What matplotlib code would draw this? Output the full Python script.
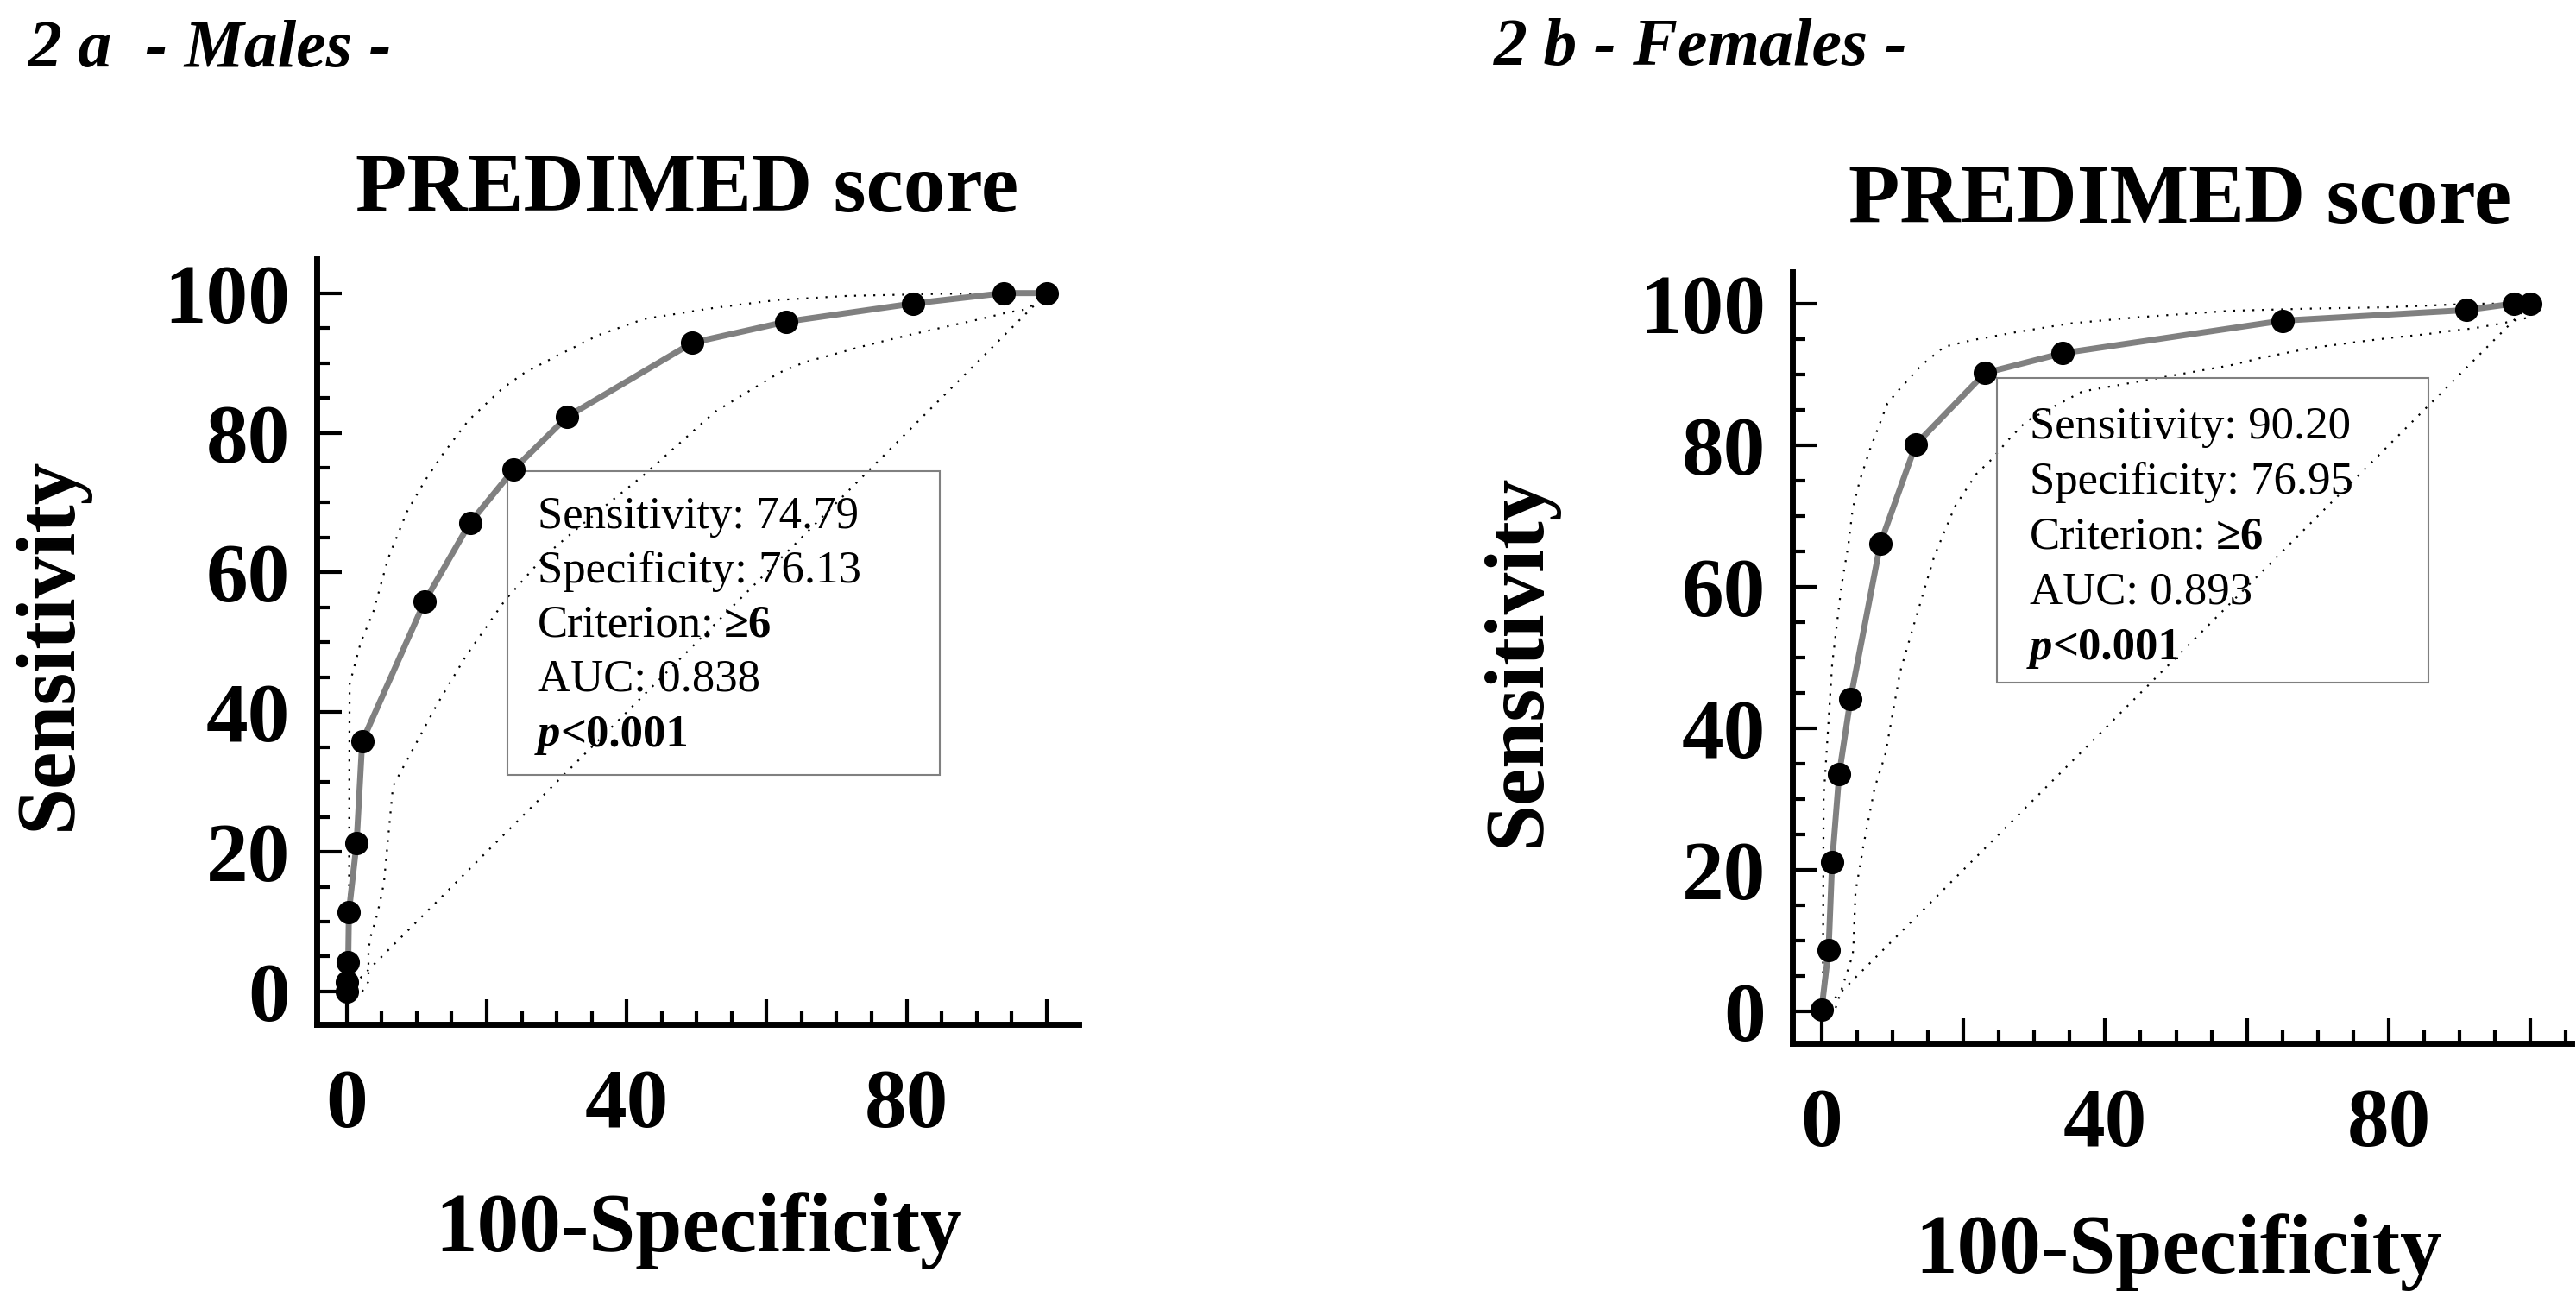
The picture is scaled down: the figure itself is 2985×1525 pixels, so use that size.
import matplotlib
matplotlib.use('Agg')
from matplotlib import pyplot as plt
from matplotlib.patches import Rectangle
from matplotlib.ticker import MultipleLocator

# 2a - males: ROC points (100-specificity, sensitivity)
male_fpr = [0, 0, 0.2, 0.3, 1.4, 2.2, 11.1, 17.6, 23.87, 31.5, 49.4, 62.8, 80.9, 93.9, 100]
male_sens = [0, 1.3, 4.2, 11.4, 21.3, 35.8, 55.8, 67.1, 74.79, 82.3, 92.9, 95.9, 98.5, 100, 100]
# 95% confidence bounds
male_up_x = [0, 0.3, 0.4, 2.0, 3.8, 5.9, 8.6, 11.2, 13.7, 17.4, 22.3, 25.4, 30.2, 36, 42.5, 52.6, 61.4, 71.5, 85, 100]
male_up_y = [0, 8, 44, 50, 54.4, 62, 68.7, 73.2, 76.9, 81.8, 86.4, 88.6, 91.1, 94, 96.3, 97.9, 99.0, 99.6, 99.9, 100]
male_lo_x = [2.2, 3.1, 3.1, 3.5, 4.1, 4.7, 5.3, 6.6, 12.9, 17, 22.6, 28.2, 33.3, 42.5, 52.6, 61.8, 65.4, 69.1, 73.4, 76.6, 80.8, 86.1, 90.6, 94.3, 97.2, 100]
male_lo_y = [0, 1.4, 6.1, 8.2, 10.1, 12.6, 15.5, 29.4, 41.1, 48, 56, 62.3, 66.6, 74, 83, 88.6, 90.1, 91.1, 92.3, 93.1, 94.1, 95.3, 96.3, 97.2, 97.7, 100]
male_stats = ['74.79', '76.13', '0.838']

# 2b - females
fem_fpr = [0, 1.0, 1.5, 2.5, 4.1, 8.3, 13.3, 23.05, 34.0, 65.0, 91.0, 97.6, 100]
fem_sens = [0.2, 8.7, 21.1, 33.6, 44.2, 66.1, 80.1, 90.20, 93.0, 97.6, 99.1, 100, 100]
fem_up_x = [0, 0.2, 0.3, 1.5, 2.8, 3.8, 4.4, 5.4, 6.8, 9.3, 10.8, 14.1, 17.3, 21, 27, 35, 44.8, 57.7, 68.7, 80, 92, 100]
fem_up_y = [0, 2, 30, 49, 60, 66, 71, 75, 79.3, 85.9, 87.7, 91.3, 93.9, 94.8, 95.9, 97.2, 98.1, 99.0, 99.3, 99.5, 100, 100]
fem_lo_x = [2.0, 4.4, 4.5, 4.8, 6.0, 7.5, 9.0, 11.1, 12.9, 15.9, 18.8, 21.8, 24.0, 26.3, 28.9, 36.8, 49.8, 57.7, 61.8, 66.3, 69.5, 75.6, 80.5, 85.4, 89.0, 91.8, 95.9, 99.5, 100]
fem_lo_y = [0.5, 8.0, 9.1, 16.9, 23.9, 31.6, 36.3, 48.0, 54.2, 64.3, 71.3, 75.9, 78.0, 80.7, 83.4, 87.6, 89.9, 91.3, 92.3, 93.2, 93.8, 94.6, 95.2, 95.7, 96.2, 96.5, 97.2, 98.0, 100]
fem_stats = ['90.20', '76.95', '0.893']

x_ticks = [0, 20, 40, 60, 80, 100]
x_ticklabels = ['0', '', '40', '', '80', '']
y_ticks = [0, 20, 40, 60, 80, 100]

W, H = 2985, 1525
plt.rcParams['font.family'] = ['Liberation Serif', 'DejaVu Serif']
plt.rcParams['font.weight'] = 'bold'


def fx(px):
    return px / W


def fy(py):
    return 1 - py / H


fig = plt.figure(figsize=(W / 100, H / 100), dpi=100)
dot = (0, (1, 4))


def panel(rect, xlim, ylim, fpr, sens, upx, upy, lox, loy, box, txt_xy, stats, xpad):
    ax = fig.add_axes(rect)
    ax.plot([0, 100], [0, 100], ls=dot, lw=1.6, color='black', zorder=1)
    ax.plot(upx, upy, ls=dot, lw=1.6, color='black', zorder=1)
    ax.plot(lox, loy, ls=dot, lw=1.6, color='black', zorder=1)
    ax.plot(fpr, sens, color='#808080', lw=5, marker='o', ms=18.5,
            mfc='black', mec='black', zorder=3, clip_on=False)
    ax.add_patch(Rectangle((box[0], box[1]), box[2] - box[0], box[3] - box[1],
                           fill=False, edgecolor='#808080', lw=1.5, zorder=2))

    tx, ty = txt_xy
    step = 7.8
    fs = 38
    ax.text(tx, ty, 'Sensitivity: ' + stats[0], fontsize=fs, fontweight='normal')
    ax.text(tx, ty - step, 'Specificity: ' + stats[1], fontsize=fs, fontweight='normal')
    t = ax.text(tx, ty - 2 * step, 'Criterion:', fontsize=fs, fontweight='normal')
    ax.annotate('\u22656', xy=(1, 0), xycoords=t, xytext=(8, 0), textcoords='offset points',
                va='bottom', ha='left', fontsize=fs, fontweight='bold')
    ax.text(tx, ty - 3 * step, 'AUC: ' + stats[2], fontsize=fs, fontweight='normal')
    t = ax.text(tx, ty - 4 * step, 'p', fontsize=fs, fontweight='bold', fontstyle='italic')
    ax.annotate('<0.001', xy=(1, 0), xycoords=t, va='bottom', ha='left',
                fontsize=fs, fontweight='bold')

    ax.set_xlim(*xlim)
    ax.set_ylim(*ylim)
    for s in ['top', 'right']:
        ax.spines[s].set_visible(False)
    for s in ['left', 'bottom']:
        ax.spines[s].set_linewidth(5)
    ax.set_xticks(x_ticks)
    ax.set_xticklabels(x_ticklabels)
    ax.set_yticks(y_ticks)
    ax.xaxis.set_minor_locator(MultipleLocator(5))
    ax.yaxis.set_minor_locator(MultipleLocator(5))
    ax.tick_params(which='major', direction='in', length=21, width=3, labelsize=70)
    ax.tick_params(which='minor', direction='in', length=11, width=3)
    ax.tick_params(axis='x', which='major', pad=xpad)
    ax.tick_params(axis='y', which='major', pad=22)
    return ax


panel([fx(367), fy(1187), fx(1250) - fx(367), fy(300) - fy(1187)],
      (-4.3, 104.6), (-4.7, 104.9),
      male_fpr, male_sens, male_up_x, male_up_y, male_lo_x, male_lo_y,
      (22.9, 31.0, 84.7, 74.5), (27.3, 66.4), male_stats, 37)

panel([fx(2077), fy(1209), fx(2980) - fx(2077), fy(315) - fy(1209)],
      (-4.1, 105.8), (-4.5, 104.5),
      fem_fpr, fem_sens, fem_up_x, fem_up_y, fem_lo_x, fem_lo_y,
      (24.7, 46.5, 85.6, 89.5), (29.4, 81.0), fem_stats, 37)

# panel headings
fig.text(fx(33), fy(77), '2 a  - Males -', fontsize=56, fontstyle='italic', va='baseline')
fig.text(fx(1731), fy(75), '2 b - Females -', fontsize=56, fontstyle='italic', va='baseline')

# titles
fig.text(fx(796), fy(245), 'PREDIMED score', fontsize=70, ha='center', va='baseline')
fig.text(fx(2526), fy(258), 'PREDIMED score', fontsize=70, ha='center', va='baseline')

# axis labels
fig.text(fx(810), fy(1450), '100-Specificity', fontsize=70, ha='center', va='baseline')
fig.text(fx(2525), fy(1475), '100-Specificity', fontsize=70, ha='center', va='baseline')
fig.text(fx(58), fy(746), 'Sensitivity', fontsize=70, rotation=90, ha='center', va='center')
fig.text(fx(1760), fy(765), 'Sensitivity', fontsize=70, rotation=90, ha='center', va='center')

fig.savefig('out.png', dpi=100)
